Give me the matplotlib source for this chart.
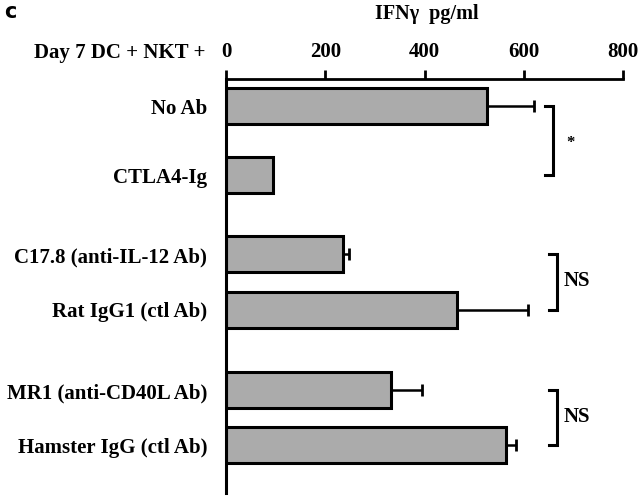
import matplotlib.pyplot as plt

# values (IFN-gamma pg/ml)
labels = ["No Ab", "CTLA4-Ig", "C17.8 (anti-IL-12 Ab)", "Rat IgG1 (ctl Ab)",
          "MR1 (anti-CD40L Ab)", "Hamster IgG (ctl Ab)"]
means = [525, 95, 235, 466, 332, 565]
err_up = [95, 0, 12, 142, 62, 19]
ticks = [0, 200, 400, 600, 800]
# significance brackets: (first bar, second bar, text)
sig = [(0, 1, "*"), (2, 3, "NS"), (4, 5, "NS")]

# vertical layout in pixel rows of the 640x498 figure
ypos = [106, 175, 254.5, 310, 390.5, 445]
bar_h = 36
ax_top, ax_bot = 79, 493
ax_left, ax_w = 226, 397

plt.rcParams["font.family"] = "Liberation Serif"
plt.rcParams["font.weight"] = "bold"
fs = 15

fig = plt.figure(figsize=(6.4, 4.98), dpi=100)
ax = fig.add_axes([ax_left / 640, 1 - ax_bot / 498, ax_w / 640,
                   (ax_bot - ax_top) / 498])

ax.barh(ypos, means, height=bar_h, color="#ababab", edgecolor="black",
        linewidth=2.2, zorder=2)
for y, m, e in zip(ypos, means, err_up):
    if e > 0:
        ax.errorbar(m, y, xerr=[[0], [e]], fmt="none", ecolor="black",
                    elinewidth=1.8, capsize=4.3, capthick=2, zorder=1)

ax.set_xlim(0, 800)
ax.set_ylim(ax_bot, ax_top)
ax.xaxis.tick_top()
ax.set_xticks(ticks)
ax.set_xticklabels([str(t) for t in ticks], fontsize=fs, fontweight="bold")
ax.tick_params(axis="x", direction="out", length=6.5, width=2, pad=6)
ax.set_yticks(ypos)
ax.set_yticklabels(labels, fontsize=fs, fontweight="bold")
ax.tick_params(axis="y", left=False, length=0, pad=13.5)
for s in ["right", "bottom"]:
    ax.spines[s].set_visible(False)
ax.spines["top"].set_linewidth(2)
ax.spines["left"].set_linewidth(2.2)

# brackets
for i, j, txt in sig:
    xb = 659 if txt == "*" else 667
    arm = 17
    ax.plot([xb - arm, xb, xb, xb - arm], [ypos[i], ypos[i], ypos[j], ypos[j]],
            color="black", lw=2.2, clip_on=False, solid_joinstyle="miter")
    if txt == "*":
        ax.text(xb + 26, (ypos[i] + ypos[j]) / 2 + 2, txt, fontsize=12,
                fontweight="bold", va="center", ha="left")
    else:
        ax.text(xb + 14, (ypos[i] + ypos[j]) / 2 - 1, txt, fontsize=fs,
                fontweight="bold", va="center", ha="left")

fig.text(205 / 640, 1 - 53 / 498, "Day 7 DC + NKT +", ha="right", va="center",
         fontsize=fs, fontweight="bold")
fig.text(427 / 640, 1 - 14 / 498, "IFN\u03b3  pg/ml", ha="center", va="center",
         fontsize=14.5, fontweight="bold")
fig.text(4 / 640, 1 - 12 / 498, "c", ha="left", va="center", fontsize=15,
         fontweight="bold", family="DejaVu Sans")

fig.savefig("out.png", dpi=100)
